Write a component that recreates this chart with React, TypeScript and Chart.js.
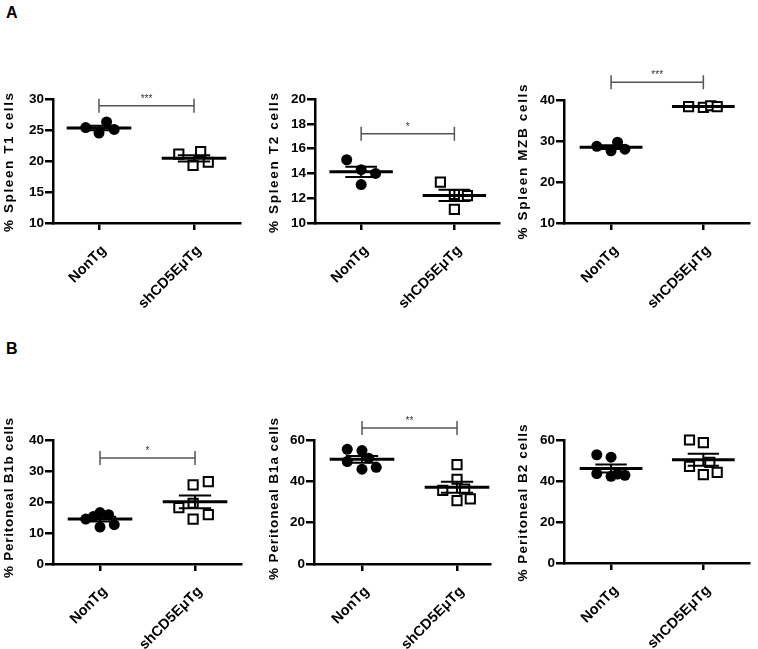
import React, { useEffect, useRef } from 'react';
import { Chart, registerables } from 'chart.js';

Chart.register(...registerables);

// ---------- data ----------
const categories = ['NonTg', 'shCD5EμTg'];

const t1NonTg = [25.4, 24.5, 26.3, 25.1];
const t1NonTgJitter = [-0.14, 0, 0.08, 0.16];
const t1Sh = [21.1, 19.3, 21.5, 19.8];
const t1ShJitter = [-0.16, -0.01, 0.07, 0.15];

const t2NonTg = [15.1, 14.3, 14.0, 13.1];
const t2NonTgJitter = [-0.155, 0, 0.155, 0];
const t2Sh = [13.3, 12.3, 12.2, 11.1];
const t2ShJitter = [-0.15, 0, 0.14, 0];

const mzbNonTg = [28.7, 27.6, 29.7, 28.0];
const mzbNonTgJitter = [-0.155, 0, 0.07, 0.15];
const mzbSh = [38.4, 38.2, 38.6, 38.4];
const mzbShJitter = [-0.16, 0, 0.08, 0.15];

const b1bNonTg = [14.5, 16.6, 11.9, 15.9, 12.7, 15.3];
const b1bNonTgJitter = [-0.15, 0, 0, 0.09, 0.15, -0.07];
const b1bSh = [18.2, 25.5, 19.6, 14.5, 26.6, 15.9];
const b1bShJitter = [-0.17, -0.02, -0.02, -0.02, 0.14, 0.14];

const b1aNonTg = [55.5, 54.9, 49.6, 51.2, 45.9, 46.8];
const b1aNonTgJitter = [-0.155, 0, -0.155, 0.07, 0, 0.15];
const b1aSh = [48.1, 41.0, 35.6, 36.2, 30.7, 31.5];
const b1aShJitter = [0, 0, -0.15, 0.08, 0, 0.14];

const b2NonTg = [52.8, 51.6, 43.6, 42.3, 43.4, 42.8];
const b2NonTgJitter = [-0.155, 0, -0.155, 0, 0.07, 0.15];
const b2Sh = [60.0, 58.7, 47.1, 49.1, 43.1, 44.2];
const b2ShJitter = [-0.15, 0, -0.15, 0.07, 0, 0.15];

const yTitles = [
  '% Spleen T1 cells',
  '% Spleen T2 cells',
  '% Spleen MZB cells',
  '% Peritoneal B1b cells',
  '% Peritoneal B1a cells',
  '% Peritoneal B2 cells',
];
const yRanges = [
  [10, 30, 5],
  [10, 20, 2],
  [10, 40, 10],
  [0, 40, 10],
  [0, 60, 20],
  [0, 60, 20],
];
const bracketValues = [28.9, 17.2, 44.3, 34.2, 65.8, null];
const bracketStars = ['***', '*', '***', '*', '**', ''];

// ---------- styling / layout ----------
const FONT = "Arial, 'Liberation Sans', Helvetica, sans-serif";
const MEAN_HALF = 0.34;
const SEM_HALF = 0.17;

interface Layout {
  left: number; top: number; width: number; height: number;
  l: number; r: number; t: number; b: number;
  xMin: number; xMax: number;
  titleX: number; titleCY: number; titleLen: number;
}

const layouts: Layout[] = [
  { left: 0, top: 40, width: 250, height: 290, l: 53, r: 240, t: 59, b: 183, xMin: -0.484, xMax: 1.484, titleX: 9.5, titleCY: 122.5, titleLen: 139 },
  { left: 250, top: 40, width: 258, height: 290, l: 65, r: 253, t: 59, b: 183, xMin: -0.495, xMax: 1.484, titleX: 24, titleCY: 123, titleLen: 140 },
  { left: 500, top: 40, width: 258, height: 290, l: 64, r: 253, t: 60, b: 183, xMin: -0.51, xMax: 1.5, titleX: 23, titleCY: 122, titleLen: 155 },
  { left: 0, top: 370, width: 250, height: 279, l: 53, r: 241, t: 70, b: 194, xMin: -0.495, xMax: 1.484, titleX: 9, titleCY: 128, titleLen: 160 },
  { left: 250, top: 370, width: 258, height: 279, l: 64, r: 240, t: 70, b: 194, xMin: -0.505, xMax: 1.347, titleX: 24, titleCY: 129, titleLen: 162 },
  { left: 500, top: 370, width: 258, height: 279, l: 64, r: 253, t: 70, b: 193, xMin: -0.51, xMax: 1.5, titleX: 23, titleCY: 133, titleLen: 157 },
];

const groups: [number[], number[], number[], number[]][] = [
  [t1NonTg, t1NonTgJitter, t1Sh, t1ShJitter],
  [t2NonTg, t2NonTgJitter, t2Sh, t2ShJitter],
  [mzbNonTg, mzbNonTgJitter, mzbSh, mzbShJitter],
  [b1bNonTg, b1bNonTgJitter, b1bSh, b1bShJitter],
  [b1aNonTg, b1aNonTgJitter, b1aSh, b1aShJitter],
  [b2NonTg, b2NonTgJitter, b2Sh, b2ShJitter],
];

const meanOf = (a: number[]) => a.reduce((s, v) => s + v, 0) / a.length;
const semOf = (a: number[]) => {
  const m = meanOf(a);
  const v = a.reduce((s, x) => s + (x - m) * (x - m), 0) / (a.length - 1);
  return Math.sqrt(v / a.length);
};

function summaryDatasets(vals: number[], cat: number): any[] {
  const m = meanOf(vals);
  const s = semOf(vals);
  const common = {
    type: 'line',
    borderColor: '#000',
    pointRadius: 0,
    fill: false,
    tension: 0,
    spanGaps: false,
    clip: false,
    order: 0,
  };
  return [
    {
      ...common,
      borderWidth: 3,
      data: [
        { x: cat - MEAN_HALF, y: m },
        { x: cat + MEAN_HALF, y: m },
      ],
    },
    {
      ...common,
      borderWidth: 2,
      data: [
        { x: cat - SEM_HALF, y: m + s },
        { x: cat + SEM_HALF, y: m + s },
        { x: cat, y: null },
        { x: cat - SEM_HALF, y: m - s },
        { x: cat + SEM_HALF, y: m - s },
        { x: cat, y: null },
        { x: cat, y: m - s },
        { x: cat, y: m + s },
      ],
    },
  ];
}

function Panel({ idx }: { idx: number }) {
  const ref = useRef<HTMLCanvasElement>(null);
  const L = layouts[idx];

  useEffect(() => {
    const [nonTg, nonJit, sh, shJit] = groups[idx];
    const [yMin, yMax, yStep] = yRanges[idx];
    const bracket = bracketValues[idx];
    const stars = bracketStars[idx];
    const title = yTitles[idx];

    const overlay = {
      id: 'overlay' + idx,
      afterDraw(chart: any) {
        const ctx = chart.ctx as CanvasRenderingContext2D;
        const xs = chart.scales.x;
        const ys = chart.scales.y;
        // y-axis title
        ctx.save();
        ctx.font = `bold 13.5px ${FONT}`;
        const w0 = ctx.measureText(title).width;
        const spacing = (L.titleLen - w0) / Math.max(1, title.length - 1);
        (ctx as any).letterSpacing = `${spacing.toFixed(2)}px`;
        ctx.fillStyle = '#000';
        ctx.textAlign = 'center';
        ctx.textBaseline = 'middle';
        ctx.translate(L.titleX, L.titleCY);
        ctx.rotate(-Math.PI / 2);
        ctx.fillText(title, spacing / 2, 0);
        ctx.restore();

        if (bracket !== null) {
          const x0 = xs.getPixelForValue(0);
          const x1 = xs.getPixelForValue(1);
          const yb = ys.getPixelForValue(bracket);
          ctx.save();
          ctx.strokeStyle = '#555';
          ctx.lineWidth = 1.5;
          ctx.beginPath();
          ctx.moveTo(x0, yb);
          ctx.lineTo(x1, yb);
          ctx.moveTo(x0, yb - 7);
          ctx.lineTo(x0, yb + 7);
          ctx.moveTo(x1, yb - 7);
          ctx.lineTo(x1, yb + 7);
          ctx.stroke();
          ctx.font = `10px ${FONT}`;
          ctx.fillStyle = '#333';
          ctx.textAlign = 'center';
          ctx.textBaseline = 'alphabetic';
          ctx.fillText(stars, (x0 + x1) / 2, yb - 4);
          ctx.restore();
        }
      },
    };

    const pts = (vals: number[], jit: number[], cat: number) =>
      vals.map((v, i) => ({ x: cat + jit[i], y: v }));

    const chart = new Chart(ref.current as HTMLCanvasElement, {
      type: 'scatter',
      data: {
        datasets: [
          ...summaryDatasets(nonTg, 0),
          ...summaryDatasets(sh, 1),
          {
            type: 'scatter',
            data: pts(nonTg, nonJit, 0),
            pointStyle: 'circle',
            pointRadius: 5.5,
            pointBackgroundColor: '#000',
            pointBorderColor: '#000',
            pointBorderWidth: 0,
            clip: false,
            order: 1,
          },
          {
            type: 'scatter',
            data: pts(sh, shJit, 1),
            pointStyle: 'rect',
            pointRadius: 6.5,
            pointBackgroundColor: '#fff',
            pointBorderColor: '#000',
            pointBorderWidth: 2,
            clip: false,
            order: 1,
          },
        ] as any,
      },
      options: {
        responsive: false,
        animation: false,
        events: [],
        layout: { padding: { left: 0, top: L.t, right: L.width - L.r, bottom: 0 } },
        plugins: {
          legend: { display: false },
          tooltip: { enabled: false },
          title: { display: false },
        },
        scales: {
          x: {
            type: 'linear',
            min: L.xMin,
            max: L.xMax,
            afterBuildTicks: (s: any) => {
              s.ticks = categories.map((_, i) => ({ value: i }));
            },
            afterFit: (s: any) => {
              s.height = L.height - L.b;
            },
            ticks: {
              autoSkip: false,
              minRotation: 45,
              maxRotation: 45,
              padding: 12,
              labelOffset: 5,
              color: '#000',
              font: { family: FONT, size: 14.5, weight: 'bold' },
              callback: (v: any) => categories[v as number] ?? '',
            },
            grid: {
              display: true,
              drawOnChartArea: false,
              drawTicks: true,
              tickLength: 7,
              tickWidth: 2.5,
              lineWidth: 2.5,
              tickColor: '#000',
              color: '#000',
            },
            border: { display: true, color: '#000', width: 2.5 },
          },
          y: {
            type: 'linear',
            min: yMin,
            max: yMax,
            afterFit: (s: any) => {
              s.width = L.l;
            },
            ticks: {
              stepSize: yStep,
              padding: 1,
              color: '#000',
              font: { family: FONT, size: 13.5, weight: 'bold' },
            },
            grid: {
              display: true,
              drawOnChartArea: false,
              drawTicks: true,
              tickLength: 8,
              tickWidth: 2.5,
              lineWidth: 2.5,
              tickColor: '#000',
              color: '#000',
            },
            border: { display: true, color: '#000', width: 2.5 },
          },
        },
      } as any,
      plugins: [overlay],
    });
    return () => chart.destroy();
  }, []);

  return (
    <canvas
      ref={ref}
      width={L.width}
      height={L.height}
      style={{ position: 'absolute', left: L.left, top: L.top, width: L.width, height: L.height }}
    />
  );
}

const letterStyle: React.CSSProperties = {
  position: 'absolute',
  fontFamily: FONT,
  fontWeight: 'bold',
  fontSize: 16,
  lineHeight: '16px',
  color: '#000',
};

export default function App() {
  return (
    <div
      style={{
        position: 'fixed',
        left: 0,
        top: 0,
        width: 758,
        height: 649,
        background: '#fff',
        overflow: 'hidden',
      }}
    >
      <div style={{ ...letterStyle, left: 6, top: 5 }}>A</div>
      <div style={{ ...letterStyle, left: 6, top: 341 }}>B</div>
      {layouts.map((_, i) => (
        <Panel key={i} idx={i} />
      ))}
    </div>
  );
}
